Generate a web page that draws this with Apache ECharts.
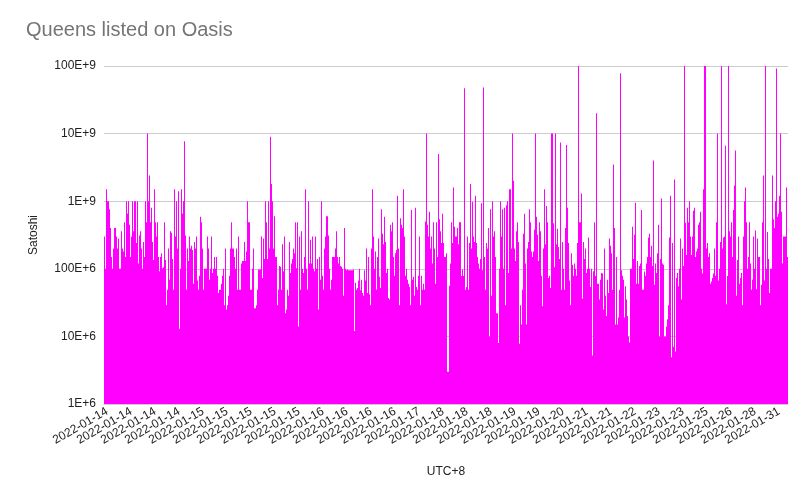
<!DOCTYPE html>
<html>
<head>
    <meta http-equiv="Content-Type" content="text/html; charset=utf-8" />
    <script type="text/javascript" src="https://cdn.jsdelivr.net/npm/echarts@6/dist/echarts.min.js"></script>
    <style>
        html, body { margin: 0; padding: 0; background: #fff; }
    </style>
</head>
<body>
    <div id="chartDom" style="width: 800px; height: 492px;"></div>

    <script type="text/javascript">
        // listing days (UTC+8) and how many listings fall on each
        var days = ['2022-01-14', '2022-01-15', '2022-01-16', '2022-01-17', '2022-01-18', '2022-01-19',
            '2022-01-20', '2022-01-21', '2022-01-22', '2022-01-23', '2022-01-24', '2022-01-25',
            '2022-01-26', '2022-01-27', '2022-01-28', '2022-01-29', '2022-01-30', '2022-01-31'];
        var dayCounts = [89, 117, 95, 25, 72, 51, 22, 47, 23, 52, 5, 17, 21, 8, 17, 6, 4, 13];

        var yTickLabels = ['1E+6', '10E+6', '100E+6', '1E+9', '10E+9', '100E+9'];

        // listing prices in satoshi, in listing order
        var pricesA = [3e8,1e8,1.5e9,1e9,1e9,7.6e8,4e8,1.5e8,1e8,2e8,4e8,4e8,3e8,2e8,2.8e8,1e8,1e8,3.6e8,2e8,1.8e8,
            4.9e8,1.5e8,1e9,6.6e8,1e9,4.5e8,1.5e8,3e8,1e9,3.6e8,1e9,1e9,2.4e8,1e9,1.2e8,3.1e8,3.6e8,2e8,1e8,2.5e8,
            1.5e8,1e9,4.9e8,1e10,1e9,2.4e9,4.9e8,8e8,2.5e8,1.35e8,1.5e9,4.9e8,3e8,4.9e8,1.5e8,9.2e7,1.5e8,1.7e8,1.02e8,1.05e8,
            4.9e8,1.35e8,2.9e7,4.9e7,2e8,6.9e7,3.6e8,3.4e8,1.4e8,4.9e7,1.5e9,3e8,1e9,2e8,1.4e9,1.3e7,1e8,1.5e9,6.6e8,1e9,
            7.7e9,3.1e8,4.9e7,2e8,1.3e8,3e8,2e8,2.2e8,1.9e8,6e7,2.5e8,2e8,3e8,6.7e7,4.9e7];
        var pricesB = [7.9e7,5.9e8,4.9e8,2e8,4.9e7,1e8,1e8,1e8,3e8,2e8,
            6.9e7,1e8,3e8,8.7e7,1e8,1.5e8,1e8,1.5e8,7.9e7,4.4e7,
            4.9e7,4.9e7,6e7,7.9e7,1e8,2.9e7,2e8,2.5e7,2.9e7,4e7,
            7.9e7,2e8,4.9e8,2e8,2e8,1.5e8,1e8,2e8,4.9e7,3e8,
            4.9e7,4.9e7,1.2e8,1.3e8,1.3e8,2.5e8,1.3e8,1.8e8,1e9,4.9e8,
            4.9e8,4.9e7,4.9e7,1e8,2e8,2.6e7,2.6e7,2.9e7,4.9e7,9.8e7,
            9.8e7,9.8e7,3e8,7.3e7,2.8e8,1.4e8,1e9,4.9e8,1.4e8,1e9,
            2e8,9e9,1.8e9,1e9,2e8,6e8,1.5e8,1.5e8,2.9e7,4.9e7,
            1.1e8,1.07e8,4.9e7,2.3e8,9.2e7,3e8,2.2e7,2.5e7,4.9e7,4e7,
            2.5e8,8.7e7,1.2e8,1.4e8,2e8,1.7e8,4.9e8,1.02e8,4.9e8,1.4e7];
        var pricesC = [3e8,4.9e7,3.6e8,1e8,8.7e7,1.5e8,1.5e9,1e8,4.9e7,1e9,
            1.2e8,2.7e8,1.2e8,3e8,1e8,9.2e7,3e8,1e8,1.4e8,2.5e7,
            1.5e8,6.9e7,1e9,7.9e7,4.9e7,2e8,3e8,6e8,6e8,3.1e8,
            1e8,4.9e7,6.9e7,1.5e8,1.5e8,1.5e8,2e8,3.6e8,1.5e8,1.2e8,
            1.5e8,1.1e8,1.07e8,1e8,4e7,4e8,1e8,9.5e7,9.8e7,9.5e7,
            9.5e7,9.5e7,9.5e7,9.5e7,9.8e7,1.2e7,6.2e7,4.9e7,5.2e7,6.7e7,
            1e8,4.8e7,6.9e7,4.4e7,4e7,9.5e7,6.7e7,2e8,4.4e7,1.5e8,
            4.2e7,2.9e7,2e8,1.5e9,3e8,1e8,1.8e8,4.9e7,1.5e8,2.8e8,
            7.6e7,5.2e7,7.6e8,3.3e8,2.3e8,5.9e8,2.5e8,8.7e7,1e8,3.7e7,
            3.5e7,4.5e8,3.6e8,4.9e8,1.5e8,7.9e7,1.7e8,1.9e8,1.2e9,2e8];
        var pricesD = [2.9e7,5.6e8,4.5e8,4e8,1.5e9,3e8,7.9e7,1e8,6.9e7,6e7,
            5.4e7,2.9e7,7.4e8,6.9e7,7.6e7,4e7,8e8,5.4e7,4.9e7,7.9e7,
            3e8,2.9e7,7.9e7,4.9e7,6e7,4.9e7,5e8,1e10,4.5e8,3e8,
            7e8,2e8,3e8,1.2e8,4.9e8,2e8,6e7,4.9e8,1.5e8,5e9,
            5.4e8,3.6e8,2.4e8,6.5e8,2.4e8,1.5e8,1.5e8,1.7e8,3e6,3e6,
            5.6e7,1.2e8,4.9e8,2.4e8,1.6e9,4.2e8,3e8,3e8,4e8,2.3e8,
            4.9e8,4.9e8,7.8e7,9.8e7,7.8e7,4.7e10,4.9e7,5.4e7,3e8,4.9e7,
            2.4e8,1.8e9,2e8,9.8e8,3e8,2.5e8,1.2e9,2.4e8,1.5e8,1.2e8,
            1e8,1.4e8,9.3e8,9.5e7,4.8e10,1.5e8,4.9e7,2.4e8,2e8,4e8,
            1e7,7.6e8,4e7,1e9,3e8,3.6e8,1.5e8,2.2e7,2.2e7,8e6];
        var pricesE = [1e8,1e9,3e8,7.6e8,1e8,8e8,2.9e7,8.7e8,1e9,8.7e7,
            1.5e9,1.5e9,2e8,1e10,2e9,2e8,1.3e8,3.6e8,4.9e8,2.5e8,
            7.8e6,2.9e7,1.5e7,4.9e7,3.3e8,6.5e8,1.2e8,1.5e7,2e8,2.5e8,
            7.6e8,4.9e8,1.8e8,1.5e8,1.8e8,3.8e8,1e10,5.9e8,3.2e8,1.3e8,
            4.9e8,3.6e8,7.9e7,2.8e7,2e8,1.5e9,2.3e8,8.5e8,4.9e8,7.3e7,
            7.9e7,5.2e7,1e10,1e10,4.7e8,1.05e8,1e10,2.3e8,3.9e8,2.1e8,
            1.4e8,7.4e9,4.9e7,2.5e8,1e8,4.9e7,4e8,6.8e9,8e8,2.4e8,
            6.7e7,2.9e7,1.7e8,1.15e8,7.9e7,1.2e8,1e8,7.9e7,2.4e8,1e11,
            4.9e8,4.9e8,1.3e9,3.6e7,2.5e8,1.4e8,2e8,8.7e7,1e8,2.9e8,
            1e8,5.4e7,1e8,5.2e6,9.2e7,4.9e8,7.8e7,2e10,6e7,6e7];
        var pricesF = [3.5e7,6.9e7,8.7e7,8.5e7,2.5e7,2e8,4e7,2e7,6.9e7,4.4e7,
            2.8e8,2.2e8,1.7e8,4.9e7,3.5e9,4e8,1.5e7,1.5e8,1.5e7,1.9e7,
            4.9e7,7.8e10,9.5e7,7.9e7,6.9e7,1.9e7,5.5e7,3.5e7,2e7,1e7,
            8.1e6,1e8,1e8,4.2e8,1.4e8,3.2e8,9.5e8,6e7,1.3e8,6e7,
            1.1e8,1.2e8,7.4e8,4.9e7,4.9e7,9.1e7,7.9e7,1.2e8,1.5e8,2.9e8,
            3.3e8,1.5e8,2.2e8,1.1e8,4e9,5.8e7,1.2e8,8.7e7,1.7e8,4.5e8,
            1e7,1.4e8,1.1e9,1.2e8,1.15e8,1e7,1e7,1.4e7,1.8e7,2.9e7,
            2.9e8,1.2e9,4.9e6,2.4e8,7e6,2.1e9,6e6,7.3e7,8.7e7,5.5e7,
            1e8,2.8e8,3.5e7,2e8,1.1e8,1e11,4.8e8,1.6e8,8e8,4.9e8,
            1e9,3e8,1.6e8,3e8,7.2e8,8e8,1.5e8,1.8e8,2e8,4.5e8];
        var pricesG = [4.9e8,7e8,1e8,8.5e7,1.5e9,1e11,1e11,2e8,2.4e8,1.5e8,
            1.7e8,6e7,6.5e7,7.3e7,8.5e7,2e8,7.9e7,4.9e8,1e10,6.7e7,
            1e8,2.5e8,1e11,2e8,2.9e8,3e8,6.6e9,3e7,7.8e7,1e11,
            3.6e8,3e8,4.9e8,1.5e8,7.4e8,1.7e9,5.6e9,4e7,1.35e8,3e8,
            6e7,7.3e7,8.7e7,2.9e7,3e8,1e9,1.6e9,4.9e8,1e8,1.5e8,
            4.9e8,1.2e8,4.9e7,6.9e7,3e8,1e8,3.7e8,5e7,2.8e8,1.5e8,
            1.5e8,2.9e7,5.8e7,4.9e8,2.4e9,6.7e7,1e11,1e8,3.5e8,1.4e8,
            4.4e7,1e8,1e8,2.4e9,5.4e8,4e8,1e9,9.2e10,5.9e8,6.5e8,
            1.2e9,1e10,7e8,1.2e8,3e8,3e8,3e8,1.6e9,1.5e8];

        var prices = pricesA.concat(pricesB, pricesC, pricesD, pricesE, pricesF, pricesG);

        var categories = [];
        for (var d = 0; d < days.length; d++) {
            for (var n = 0; n < dayCounts[d]; n++) categories.push(days[d]);
        }

        var fontFam = 'Liberation Sans, Arial, sans-serif';

        var option = {
            animation: false,
            backgroundColor: '#ffffff',
            title: {
                text: 'Queens listed on Oasis',
                left: 26,
                top: 20,
                padding: 0,
                textStyle: { color: '#757575', fontSize: 20, fontWeight: 'normal', fontFamily: fontFam }
            },
            grid: { left: 104, right: 12, top: 66, bottom: 88 },
            xAxis: {
                type: 'category',
                data: categories,
                name: 'UTC+8',
                nameLocation: 'middle',
                nameGap: 62,
                nameTextStyle: { color: '#222', fontSize: 12, fontFamily: fontFam },
                axisTick: { show: false },
                axisLine: { lineStyle: { color: '#cccccc' } },
                axisLabel: {
                    interval: 23,
                    rotate: 30,
                    margin: 8,
                    padding: [0, -3, 0, 0],
                    color: '#222',
                    fontSize: 12,
                    fontFamily: fontFam
                }
            },
            yAxis: {
                type: 'log',
                logBase: 10,
                min: 1e6,
                max: 1e11,
                name: 'Satoshi',
                nameLocation: 'middle',
                nameGap: 64,
                nameRotate: 90,
                nameTextStyle: { color: '#222', fontSize: 12, fontFamily: fontFam },
                axisLine: { show: false },
                axisTick: { show: false },
                splitLine: { lineStyle: { color: '#cccccc' } },
                axisLabel: {
                    margin: 8,
                    color: '#222',
                    fontSize: 12,
                    fontFamily: fontFam,
                    formatter: function (v) {
                        return yTickLabels[Math.round(Math.log10(v)) - 6];
                    }
                }
            },
            series: [{
                type: 'bar',
                data: prices,
                barCategoryGap: '0%',
                barGap: '0%',
                clip: true,
                itemStyle: { color: '#ff00ff' }
            }]
        };

        var myChart = echarts.init(document.getElementById('chartDom'));
        myChart.setOption(option);
    </script>
</body>
</html>
